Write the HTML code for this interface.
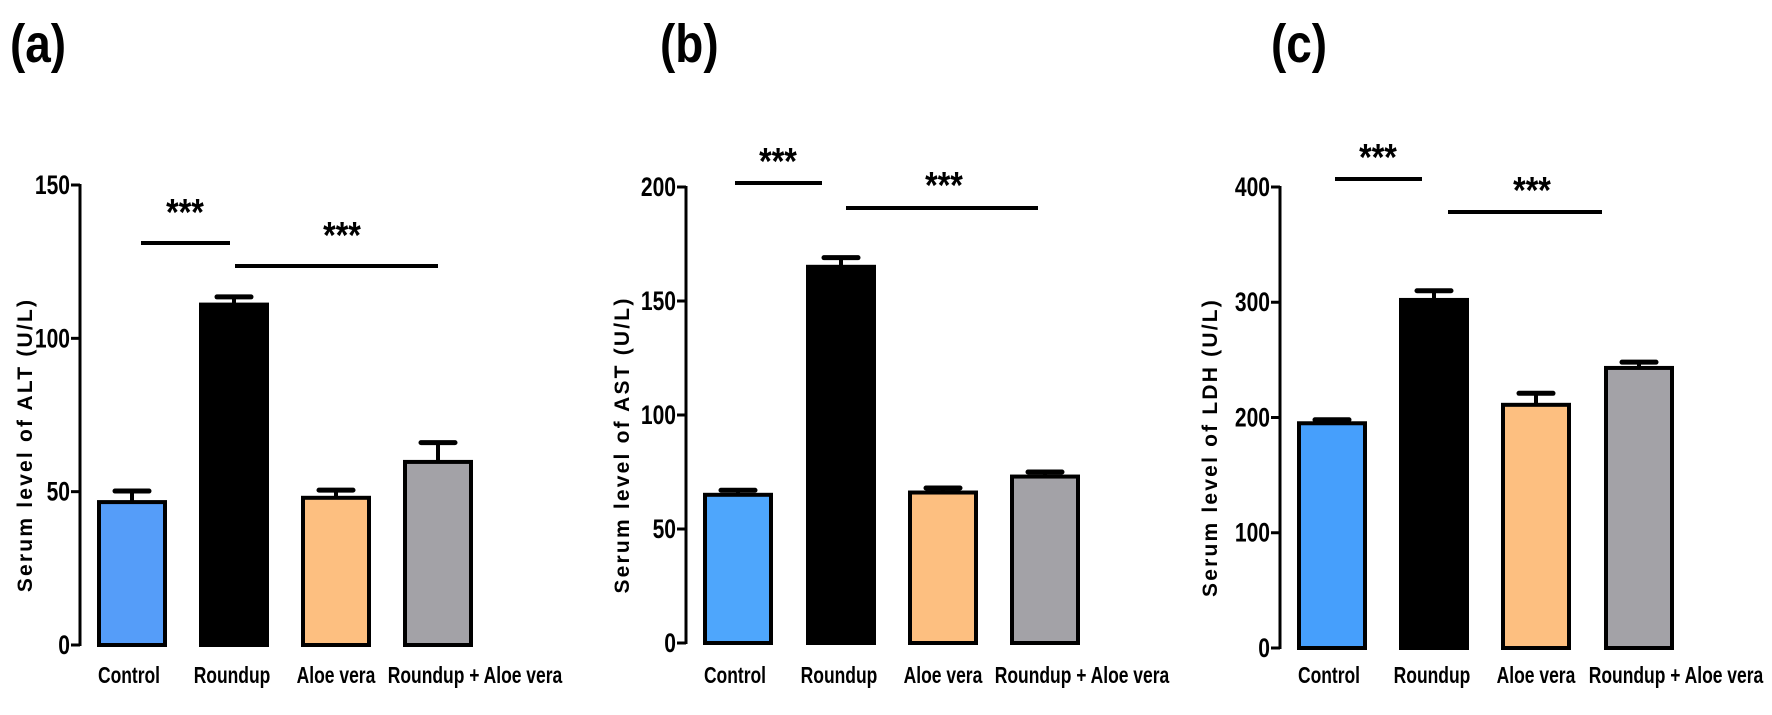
<!DOCTYPE html>
<html><head><meta charset="utf-8"><style>
body{margin:0;background:#fff;}
svg text{font-family:"Liberation Sans",sans-serif;}
</style></head><body>
<svg id="fig" width="1772" height="710" viewBox="0 0 1772 710" xmlns="http://www.w3.org/2000/svg"></svg>
<script>
const categories = ["Control", "Roundup", "Aloe vera", "Roundup + Aloe vera"];
const altValues = [46.6, 111, 48, 59.7];
const altErrors = [3.6, 2.5, 2.5, 6.3];
const astValues = [65, 165, 66, 73];
const astErrors = [2, 4, 2, 2];
const ldhValues = [195, 302, 211, 243];
const ldhErrors = [3, 8, 10, 5];
const altTicks = [0, 50, 100, 150];
const astTicks = [0, 50, 100, 150, 200];
const ldhTicks = [0, 100, 200, 300, 400];
const titles = ["Serum level of ALT (U/L)", "Serum level of AST (U/L)", "Serum level of LDH (U/L)"];
const panelLetters = ["(a)", "(b)", "(c)"];

const NS = "http://www.w3.org/2000/svg";
const svg = document.getElementById("fig");
function mk(tag, attrs, parent) {
  const e = document.createElementNS(NS, tag);
  for (const k in attrs) e.setAttribute(k, attrs[k]);
  (parent || svg).appendChild(e);
  return e;
}
const colors = [["#559df9", "#000", "#fdbf80", "#a3a2a7"], ["#4ea6fc", "#000", "#fdbf80", "#a3a2a7"], ["#469ffc", "#000", "#fdbf80", "#a3a2a7"]];
const labelShift = [-3, -2, 0, 37];
const layout = [
  {ax: 80, y0: 645, yTop: 185, max: 150, centers: [132, 234, 336, 438], letterX: 10, titleX: 25,
   sig: [[141, 230, 243, 185, 208], [235, 438, 266, 342, 231]]},
  {ax: 686, y0: 643, yTop: 187, max: 200, centers: [738, 841, 943, 1045], letterX: 660, titleX: 622,
   sig: [[735, 822, 183, 778, 157], [846, 1038, 208, 944, 181]]},
  {ax: 1280, y0: 648, yTop: 187, max: 400, centers: [1332, 1434, 1536, 1639], letterX: 1271, titleX: 1210,
   sig: [[1335, 1422, 179, 1378, 153], [1448, 1602, 212, 1532, 186]]}
];
const vals = [altValues, astValues, ldhValues];
const errs = [altErrors, astErrors, ldhErrors];
const ticks = [altTicks, astTicks, ldhTicks];

layout.forEach((L, p) => {
  const g = mk("g", {});
  
  
  const y = v => L.y0 - (v / L.max) * (L.y0 - L.yTop);
  const lt = mk("text", {x: L.letterX, y: 62, "font-size": 54, "font-weight": "bold", transform: `translate(${L.letterX},0) scale(0.85,1) translate(${-L.letterX},0)`}, g);
  lt.textContent = panelLetters[p];
  
  
  const axis = mk("line", {x1: L.ax, x2: L.ax, y1: L.yTop - 1, y2: L.y0 + 1, stroke: "#000", "stroke-width": 3}, g);
  
  
  ticks[p].forEach(t => {
    const tk = mk("line", {x1: L.ax - 9, x2: L.ax, y1: y(t), y2: y(t), stroke: "#000", "stroke-width": 3}, g);
    
    
    const tl = mk("text", {x: L.ax - 10, y: y(t) + 9, "font-size": 27, "font-weight": "bold", "text-anchor": "end", transform: `translate(${L.ax - 10},0) scale(0.78,1) translate(${-(L.ax - 10)},0)`}, g);
    tl.textContent = t;
    
    
  });
  const ty = (L.yTop + L.y0) / 2 + 30;
  const tt = mk("text", {x: L.titleX, y: ty, "font-size": 21, "font-weight": "bold", "letter-spacing": 2.2, "text-anchor": "middle", transform: `rotate(-90 ${L.titleX} ${ty})`, dy: 7}, g);
  tt.textContent = titles[p];
  
  
  categories.forEach((c, i) => {
    const cx = L.centers[i], w = 66;
    const et = y(vals[p][i] + errs[p][i]);
    const el = mk("line", {x1: cx, x2: cx, y1: et, y2: y(vals[p][i]), stroke: "#000", "stroke-width": 4}, g);
    
    
    const ec = mk("line", {x1: cx - 17, x2: cx + 17, y1: et, y2: et, stroke: "#000", "stroke-width": 5, "stroke-linecap": "round"}, g);
    
    
    const b = mk("rect", {x: cx - w / 2, y: y(vals[p][i]), width: w, height: L.y0 - y(vals[p][i]), fill: colors[p][i], stroke: "#000", "stroke-width": 4}, g);
    
    
    const lx = cx + labelShift[i];
    const xl = mk("text", {x: lx, y: 683, "font-size": 23, "font-weight": "bold", "text-anchor": "middle", transform: `translate(${lx},0) scale(0.76,1) translate(${-lx},0)`}, g);
    xl.textContent = c;
    
    
  });
  L.sig.forEach(s => {
    const sl = mk("line", {x1: s[0], x2: s[1], y1: s[2], y2: s[2], stroke: "#000", "stroke-width": 4}, g);
    
    
    const st = mk("text", {x: s[3], y: s[4] + 17, "font-size": 38, "font-weight": "bold", "text-anchor": "middle", transform: `translate(${s[3]},0) scale(0.85,1) translate(${-s[3]},0)`}, g);
    st.textContent = "***";
    
    
  });
});
</script>
</body></html>
